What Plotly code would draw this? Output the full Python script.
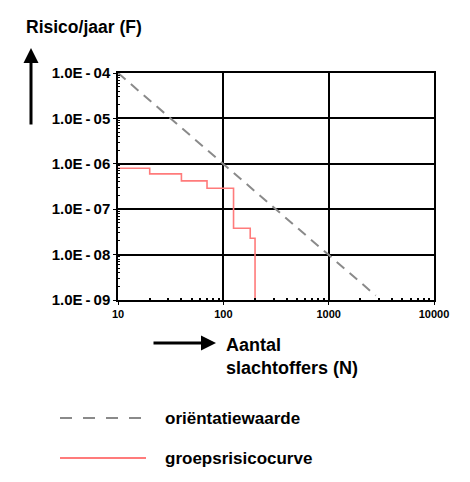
import plotly.graph_objects as go

# orientatiewaarde (dashed guide line)
orient_n = [10, 100, 1000, 2800]
orient_f = [1.0e-4, 1.0e-6, 1.0e-8, 1.25e-9]

# groepsrisicocurve (step curve)
groep_n = [10, 20, 40, 70, 125, 180, 200, 200]
groep_f = [8.0e-7, 6.0e-7, 4.2e-7, 2.9e-7, 3.8e-8, 2.3e-8, 2.3e-8, 1.0e-10]

x_ticks = [10, 100, 1000, 10000]
x_ticktext = ["10", "100", "1000", "10000"]
x_minor = [m * d for d in (10, 100, 1000) for m in range(2, 10)]
y_ticks = [1e-9, 1e-8, 1e-7, 1e-6, 1e-5, 1e-4]
y_ticktext = ["1.0E\u2009-\u200909", "1.0E\u2009-\u200908", "1.0E\u2009-\u200907",
              "1.0E\u2009-\u200906", "1.0E\u2009-\u200905", "1.0E\u2009-\u200904"]
y_minor = [m * d for d in (1e-9, 1e-8, 1e-7, 1e-6, 1e-5) for m in range(2, 10)]

FONT = "Liberation Sans, Arial, sans-serif"
OFF = 8  # page body margin
W, H = 470, 482
# plot area in screenshot pixels
X0, X1, Y0, Y1 = 118, 434, 73, 300
L, R, T, B = X0 - OFF, W - X1 + OFF, Y0 - OFF, H - Y1 + OFF
PW, PH = X1 - X0, Y1 - Y0


def px(x):
    return (x - X0) / PW


def py(y):
    return (Y1 - y) / PH


fig = go.Figure()
fig.add_trace(go.Scatter(x=orient_n, y=orient_f, mode="lines",
                         line=dict(color="#8a8a8a", width=2, dash="10px,7px"),
                         name="oriëntatiewaarde", showlegend=False))
fig.add_trace(go.Scatter(x=groep_n, y=groep_f, mode="lines", line_shape="hv",
                         line=dict(color="#ff7b7b", width=1.6),
                         name="groepsrisicocurve", showlegend=False))

axis_common = dict(showline=True, linecolor="black", linewidth=1.5, mirror=True,
                   showgrid=True, gridcolor="black", gridwidth=1.5,
                   ticks="outside", ticklen=3, tickcolor="black", zeroline=False)

fig.update_xaxes(type="log", range=[1, 4], tickvals=x_ticks, ticktext=x_ticktext,
                 tickfont=dict(family=FONT, size=11, color="black", weight="bold"),
                 minor=dict(tickvals=x_minor, ticks="inside", ticklen=2, tickwidth=1.5,
                            tickcolor="black", showgrid=False),
                 **axis_common)
fig.update_yaxes(type="log", range=[-9, -4], tickvals=y_ticks, ticktext=y_ticktext,
                 tickfont=dict(family=FONT, size=15, color="black", weight="bold"),
                 minor=dict(tickvals=y_minor, ticks="inside", ticklen=2, tickwidth=1,
                            tickcolor="black", showgrid=False),
                 **axis_common)

bold = dict(family=FONT, color="black", weight="bold")
annotations = [
    dict(x=px(24), y=py(27), xref="paper", yref="paper", text="Risico/jaar (F)",
         showarrow=False, xanchor="left", yanchor="middle", font=dict(size=17.5, **bold)),
    dict(x=px(31), y=py(48), xref="paper", yref="paper", text="", showarrow=True,
         ax=0, ay=78, arrowhead=2, arrowsize=1, arrowwidth=3, arrowcolor="black"),
    dict(x=px(216), y=py(343), xref="paper", yref="paper", text="", showarrow=True,
         ax=-64, ay=0, arrowhead=2, arrowsize=1, arrowwidth=3, arrowcolor="black"),
    dict(x=px(224), y=py(333), xref="paper", yref="paper",
         text="Aantal<br>slachtoffers (N)", showarrow=False, align="left",
         xanchor="left", yanchor="top", font=dict(size=18, **bold)),
    dict(x=px(163), y=py(418), xref="paper", yref="paper", text="oriëntatiewaarde",
         showarrow=False, xanchor="left", yanchor="middle", font=dict(size=17, **bold)),
    dict(x=px(163), y=py(458), xref="paper", yref="paper", text="groepsrisicocurve",
         showarrow=False, xanchor="left", yanchor="middle", font=dict(size=17, **bold)),
]

shapes = [
    dict(type="line", xref="paper", yref="paper", x0=px(60), x1=px(146),
         y0=py(418), y1=py(418), line=dict(color="#8a8a8a", width=2, dash="12px,11px")),
    dict(type="line", xref="paper", yref="paper", x0=px(60), x1=px(146),
         y0=py(458), y1=py(458), line=dict(color="#ff7b7b", width=2)),
]

fig.update_layout(width=W, height=H, margin=dict(l=L, r=R, t=T, b=B),
                  plot_bgcolor="white", paper_bgcolor="white",
                  annotations=annotations, shapes=shapes, showlegend=False)

fig.write_html("out.html")
